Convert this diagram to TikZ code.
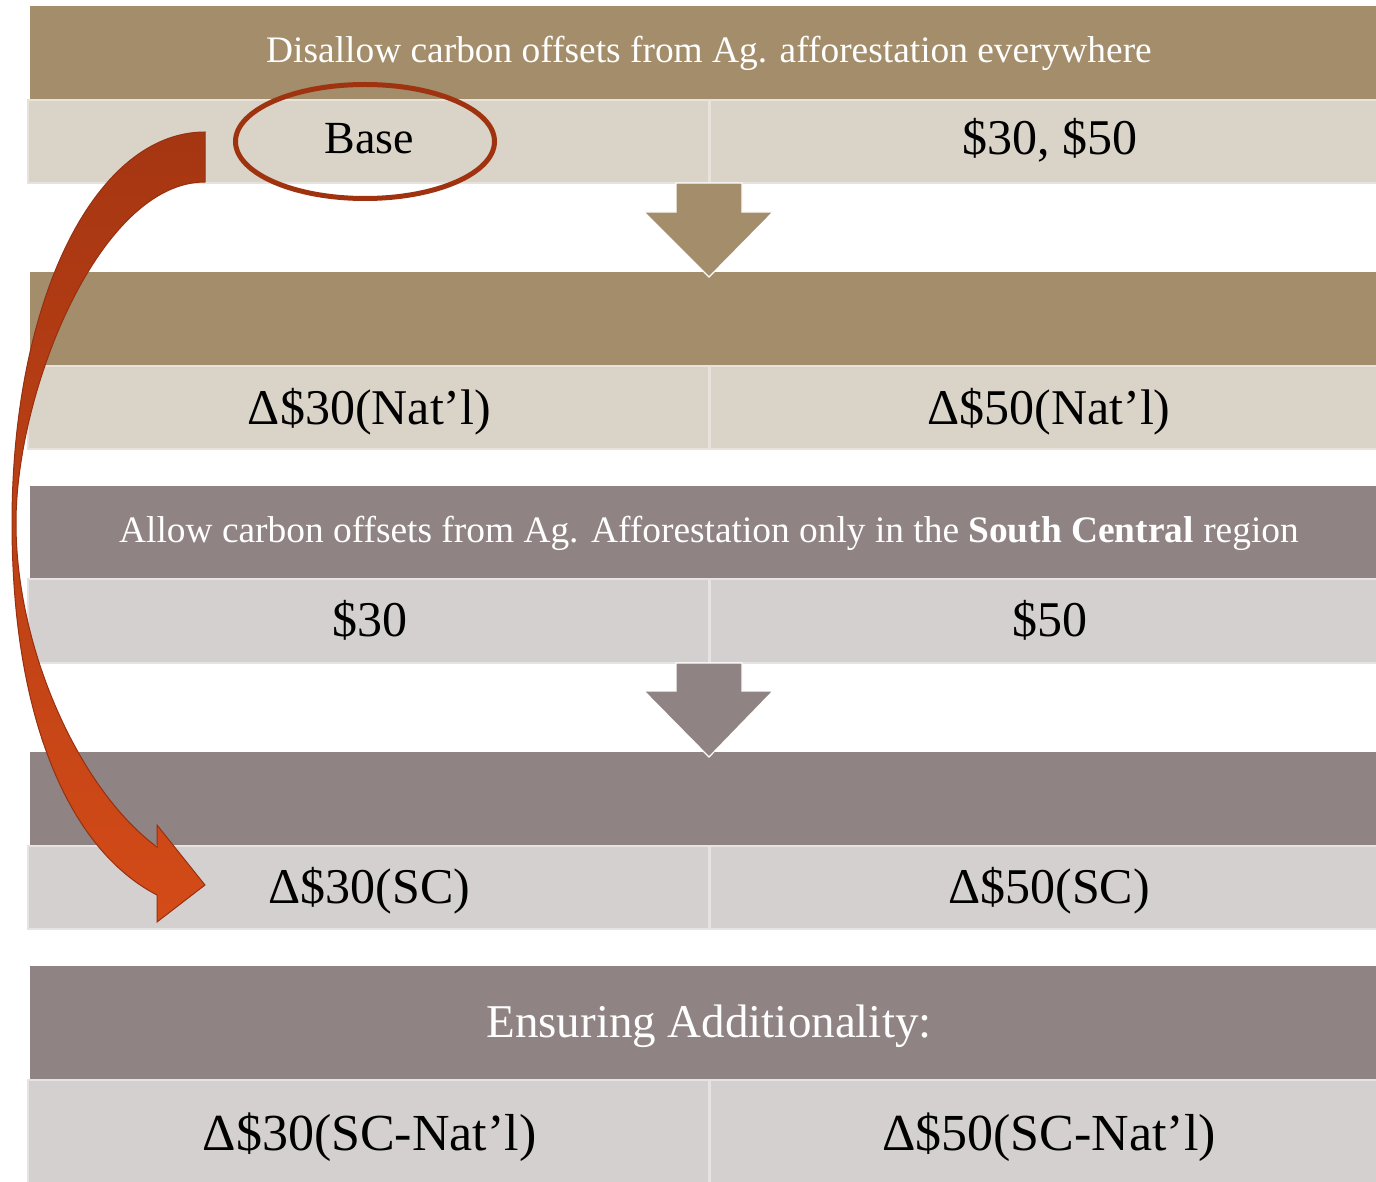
\documentclass[tikz,border=0pt]{standalone}
\usepackage{fontspec}
\setmainfont{Liberation Serif}
\definecolor{hdrA}{HTML}{A38D6A}
\definecolor{rowA}{HTML}{DAD3C8}
\definecolor{hdrB}{HTML}{8F8383}
\definecolor{rowB}{HTML}{D4D0CF}
\definecolor{edgeA}{HTML}{E7E3DC}
\definecolor{edgeB}{HTML}{E6E3E3}
\definecolor{ringc}{HTML}{A0330F}
\definecolor{arrTop}{HTML}{A53612}
\definecolor{arrBot}{HTML}{D34B18}
\definecolor{arrEdge}{HTML}{973010}
\tikzset{
  hdtext/.style={anchor=base, inner sep=0pt, text=white, font=\fontsize{18.7}{22}\selectfont},
  celltext/.style={anchor=base, inner sep=0pt, text=black, font=\fontsize{25}{30}\selectfont},
  bigtext/.style={anchor=base, inner sep=0pt, text=black, font=\fontsize{26}{31}\selectfont},
  rowcellA/.style={draw=edgeA, fill=rowA, line width=1pt},
  rowcellB/.style={draw=edgeB, fill=rowB, line width=1pt},
  coldivA/.style={draw=edgeA, line width=1.5pt},
  coldivB/.style={draw=edgeB, line width=1.5pt},
  downarrow/.style={draw=white, line width=0.6pt, line join=miter},
}
\begin{document}
\begin{tikzpicture}[x=0.5pt,y=-0.5pt]
\useasboundingbox (0,0) rectangle (1376,1182);
\clip (0,0) rectangle (1376,1182);

% ---------- table 1
\fill[hdrA] (30,6) rectangle (1392,100);
\path[rowcellA] (28,100) rectangle (1392,183);
\path[coldivA] (709,101) -- (709,182);
\node[hdtext] (h1) at (709,63) {Disallow carbon offsets from Ag. afforestation everywhere};
\node[celltext, font=\fontsize{23}{28}\selectfont] (base) at (369.5,154) {Base};
\node[celltext] (p1) at (1050,155) {\$30, \$50};

% ---------- table 2
\fill[hdrA] (30,272) rectangle (1392,366);
\path[rowcellA] (28,366) rectangle (1392,449);
\path[coldivA] (709,367) -- (709,448);
\node[celltext] (n30) at (369.5,424) {Δ\$30(Nat’l)};
\node[celltext] (n50) at (1049,424) {Δ\$50(Nat’l)};

% down arrow 1
\path[downarrow, fill=hdrA] (676,183) -- (742,183) -- (742,212) -- (773,212)
  -- (709,277) -- (644,212) -- (676,212) -- cycle;

% ---------- table 3
\fill[hdrB] (30,486) rectangle (1392,579);
\path[rowcellB] (28,579) rectangle (1392,663);
\path[coldivB] (709,580) -- (709,662);
\node[hdtext] (h3) at (709,542) {Allow carbon offsets from Ag. Afforestation only in the \textbf{South Central} region};
\node[celltext] (s30) at (369.5,636) {\$30};
\node[celltext] (s50) at (1050,636) {\$50};

% ---------- table 4
\fill[hdrB] (30,752) rectangle (1392,846);
\path[rowcellB] (28,846) rectangle (1392,929);
\path[coldivB] (709,847) -- (709,928);
\node[celltext] (sc30) at (369.5,903) {Δ\$30(SC)};
\node[celltext] (sc50) at (1049,903) {Δ\$50(SC)};

% down arrow 2
\path[downarrow, fill=hdrB] (676,663) -- (742,663) -- (742,691) -- (773,691)
  -- (709,757) -- (644,691) -- (676,691) -- cycle;

% ---------- table 5
\fill[hdrB] (30,966) rectangle (1392,1080);
\path[rowcellB] (28,1080) rectangle (1392,1200);
\path[coldivB] (709,1081) -- (709,1200);
\node[hdtext, font=\fontsize{23.5}{28}\selectfont] (h5) at (709,1037) {Ensuring Additionality:};
\node[bigtext] (d30) at (369.5,1150) {Δ\$30(SC-Nat’l)};
\node[bigtext] (d50) at (1049,1150) {Δ\$50(SC-Nat’l)};

% ---------- highlight ring round Base
\draw[ringc, line width=2.5pt] (365,141.5) ellipse [x radius=129.5, y radius=57];

% ---------- curved arrow from Base to Delta$30(SC)
\coordinate (ctail) at (205,132);
\coordinate (ctip) at (205,885);
\path[top color=arrTop, bottom color=arrBot, draw=arrEdge, line width=0.5pt, line join=miter]
  (ctail) .. controls (95,132) and (12,300) .. (12,523)
          .. controls (12,720) and (70,850) .. (157,895)
  -- (157,922) -- (ctip) -- (157,825) -- (157,847)
          .. controls (80,790) and (16,650) .. (16,523)
          .. controls (16,390) and (100,182) .. (205,182)
  -- cycle;
\end{tikzpicture}
\end{document}
